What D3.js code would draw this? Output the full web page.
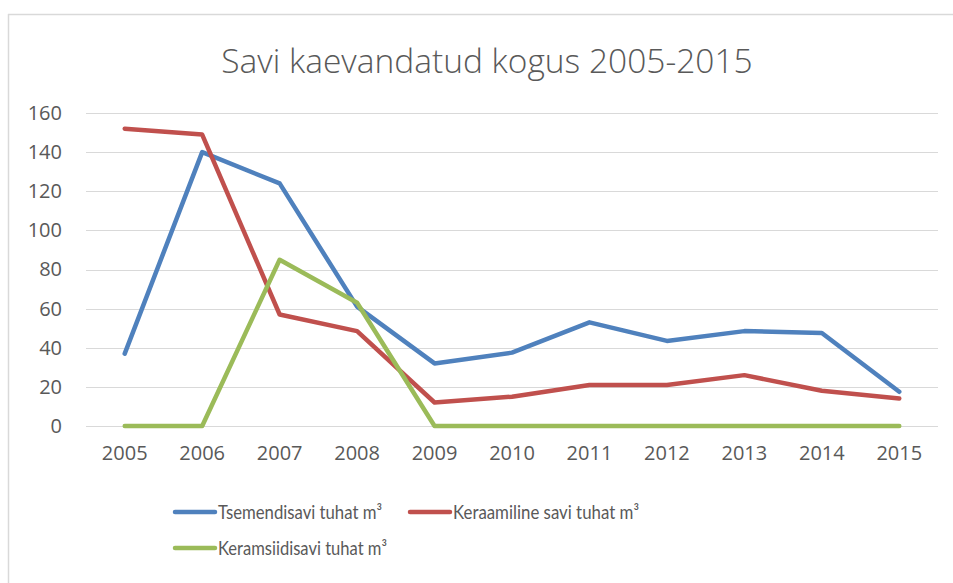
<!DOCTYPE html>
<html>
<head>
<meta charset="utf-8">
<script src="https://cdn.jsdelivr.net/npm/d3@7"></script>
<style>
  html, body { margin: 0; padding: 0; background: #fff; }
  svg { display: block; }
  text { font-family: Lato, "Open Sans", sans-serif; fill: #595959; }
</style>
</head>
<body>
<svg id="chart" width="953" height="583"></svg>
<script>
const years = ["2005","2006","2007","2008","2009","2010","2011","2012","2013","2014","2015"];
const tsemendisavi = [37, 140, 124, 61, 32, 37.5, 53, 43.5, 48.5, 47.5, 17.5];
const keraamiline = [152, 149, 57, 48.5, 12, 15, 21, 21, 26, 18, 14];
const keramsiidisavi = [0, 0, 85, 63, 0, 0, 0, 0, 0, 0, 0];
const seriesNames = ["Tsemendisavi tuhat m³", "Keraamiline savi tuhat m³", "Keramsiidisavi tuhat m³"];
const seriesColors = ["#4f81bd", "#c0504d", "#9bbb59"];
const yTicks = [0, 20, 40, 60, 80, 100, 120, 140, 160];
const title = "Savi kaevandatud kogus 2005-2015";

const svg = d3.select("#chart");

// outer frame (partial border visible in reference)
svg.append("line").attr("x1", 8).attr("x2", 953).attr("y1", 14.5).attr("y2", 14.5)
  .attr("stroke", "#d9d9d9").attr("stroke-width", 1.5);
svg.append("line").attr("x1", 8.5).attr("x2", 8.5).attr("y1", 14).attr("y2", 583)
  .attr("stroke", "#d9d9d9").attr("stroke-width", 1.5);

const x = d3.scaleBand().domain(years).range([86, 938]);
const y = d3.scaleLinear().domain([0, 160]).range([426, 113]);

// title
svg.append("text").attr("x", 487).attr("y", 73).attr("text-anchor", "middle")
  .style("font-family", "'Open Sans', sans-serif").style("font-weight", 300)
  .style("font-size", "33.5px").text(title);

// gridlines
svg.append("g").selectAll("line").data(yTicks).join("line")
  .attr("x1", 86).attr("x2", 938)
  .attr("y1", d => Math.round(y(d)) + 0.5).attr("y2", d => Math.round(y(d)) + 0.5)
  .attr("stroke", "#d9d9d9").attr("stroke-width", 1);

// y axis
const yAxis = d3.axisLeft(y).tickValues(yTicks).tickSize(0).tickPadding(0);
const gy = svg.append("g").attr("transform", "translate(62,0)").call(yAxis);
gy.select(".domain").remove();
gy.selectAll("text").style("font-size", "20px").attr("fill", "#595959")
  .style("font-family", "'Open Sans', sans-serif");

// x axis
const xAxis = d3.axisBottom(x).tickSize(0).tickPadding(0);
const gx = svg.append("g").attr("transform", "translate(0,446)").call(xAxis);
gx.select(".domain").remove();
gx.selectAll("text").style("font-size", "20px").attr("fill", "#595959")
  .style("font-family", "'Open Sans', sans-serif");

// lines
const allSeries = [tsemendisavi, keraamiline, keramsiidisavi];
const line = d3.line().x((d, i) => x(years[i]) + x.bandwidth() / 2).y(d => y(d));
svg.append("g").selectAll("path").data([0, 1, 2]).join("path")
  .attr("d", i => line(allSeries[i]))
  .attr("fill", "none")
  .attr("stroke", i => seriesColors[i])
  .attr("stroke-width", 4.5)
  .attr("stroke-linejoin", "round")
  .attr("stroke-linecap", "round");

// legend
const legendPos = [[175, 512], [410, 512], [175, 548]];
const legendTextWidth = [164, 186, 169];
const lg = svg.append("g").selectAll("g").data(seriesNames).join("g")
  .attr("transform", (d, i) => `translate(${legendPos[i][0]},${legendPos[i][1]})`);
lg.append("line").attr("x1", 0).attr("x2", 40).attr("y1", 0).attr("y2", 0)
  .attr("stroke", (d, i) => seriesColors[i]).attr("stroke-width", 4.5).attr("stroke-linecap", "round");
lg.append("text").attr("x", 43).attr("dy", "0.36em").style("font-size", "19px")
  .attr("textLength", (d, i) => legendTextWidth[i]).attr("lengthAdjust", "spacingAndGlyphs")
  .text(d => d);
</script>
</body>
</html>
